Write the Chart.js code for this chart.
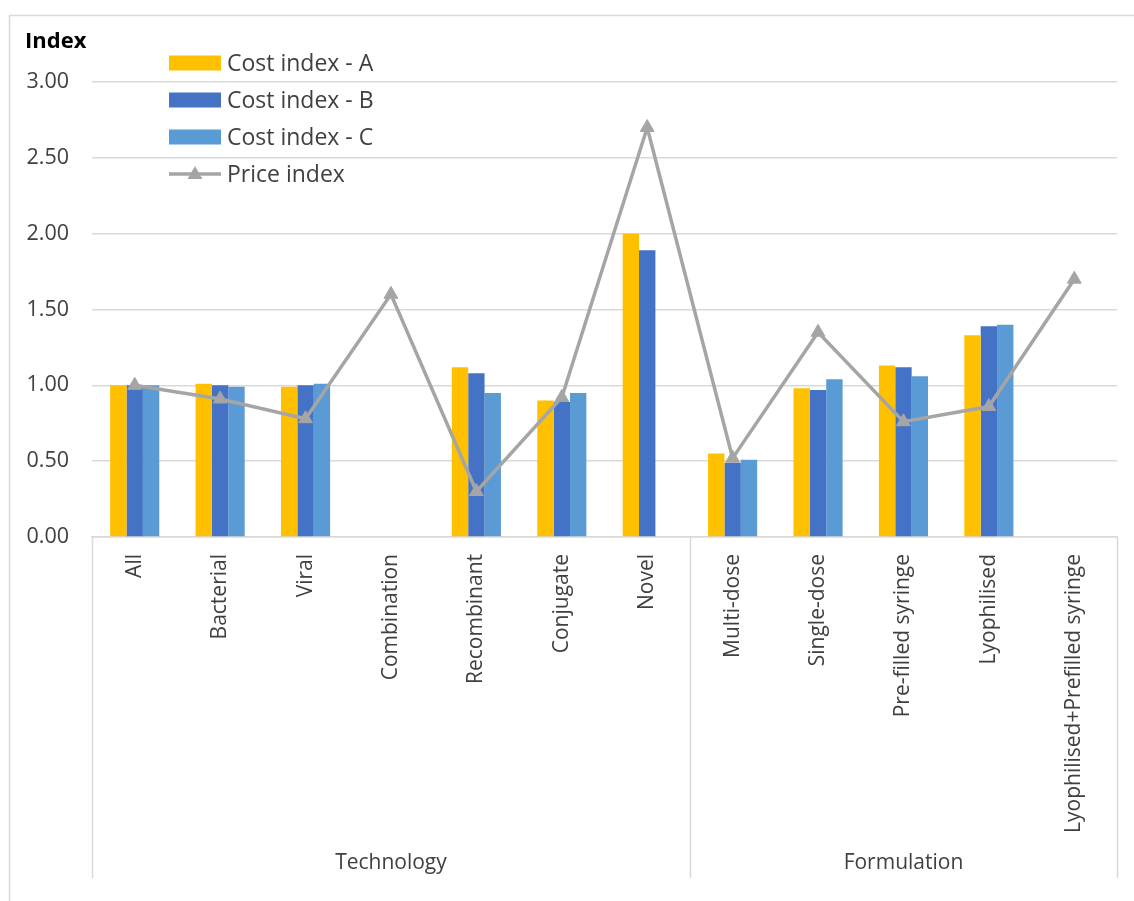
<!DOCTYPE html>
<html>
<head>
<meta charset="utf-8">
<title>Cost and price index</title>
<script src="https://cdn.jsdelivr.net/npm/chart.js@4.4.1/dist/chart.umd.min.js"></script>
<style>
  html, body { margin: 0; padding: 0; background: #fff; }
  canvas { display: block; }
</style>
</head>
<body>
<canvas id="indexChart" width="1134" height="901"></canvas>
<script>
// categories and groups along the x axis
const categories = ['All', 'Bacterial', 'Viral', 'Combination', 'Recombinant', 'Conjugate', 'Novel',
  'Multi-dose', 'Single-dose', 'Pre-filled syringe', 'Lyophilised', 'Lyophilised+Prefilled syringe'];
const groupNames = ['Technology', 'Formulation'];
const groupSizes = [7, 5];

// series values (null = no bar)
const costA = [1.00, 1.01, 0.99, null, 1.12, 0.90, 2.00, 0.55, 0.98, 1.13, 1.33, null];
const costB = [1.00, 1.00, 1.00, null, 1.08, 0.89, 1.89, 0.49, 0.97, 1.12, 1.39, null];
const costC = [1.00, 0.99, 1.01, null, 0.95, 0.95, null, 0.51, 1.04, 1.06, 1.40, null];
const price = [1.00, 0.91, 0.78, 1.60, 0.30, 0.92, 2.70, 0.52, 1.35, 0.76, 0.86, 1.70];

const yMax = 3;
const yStep = 0.5;

const FONT = '"Open Sans", "Noto Sans", sans-serif';
const TEXT = '#404040';
const GRID = '#D9D9D9';

// frame, group axis, title and legend are painted around the chart
const decorations = {
    id: 'decorations',
    beforeDraw(chart) {
        const ctx = chart.ctx;
        ctx.save();
        ctx.strokeStyle = GRID;
        ctx.lineWidth = 1.5;
        ctx.strokeRect(9.5, 15.5, chart.width, chart.height);
        ctx.restore();
    },
    afterDraw(chart) {
        const ctx = chart.ctx;
        const area = chart.chartArea;
        const x = chart.scales.x;
        const half = (x.getPixelForValue(1) - x.getPixelForValue(0)) / 2;
        const bottom = area.bottom + 341;

        ctx.save();
        // group separators and group names
        ctx.strokeStyle = GRID;
        ctx.lineWidth = 1.5;
        let start = 0;
        const edges = [x.getPixelForValue(0) - half];
        groupSizes.forEach((n, g) => {
            const end = start + n - 1;
            const left = x.getPixelForValue(start) - half;
            const right = x.getPixelForValue(end) + half;
            edges.push(right);
            ctx.fillStyle = TEXT;
            ctx.font = '21px ' + FONT;
            ctx.textAlign = 'center';
            ctx.textBaseline = 'middle';
            ctx.fillText(groupNames[g], (left + right) / 2, area.bottom + 326);
            start += n;
        });
        edges.forEach(ex => {
            ctx.beginPath();
            ctx.moveTo(Math.round(ex) + 0.5, area.bottom);
            ctx.lineTo(Math.round(ex) + 0.5, bottom);
            ctx.stroke();
        });

        // axis title
        ctx.fillStyle = '#000';
        ctx.font = 'bold 22px ' + FONT;
        ctx.textAlign = 'left';
        ctx.textBaseline = 'middle';
        ctx.fillText('Index', 25, 42);

        // legend
        ctx.font = '23px ' + FONT;
        chart.data.datasets.forEach((ds, i) => {
            const cy = 63 + i * 37;
            if (ds.type === 'line') {
                ctx.strokeStyle = ds.borderColor;
                ctx.lineWidth = ds.borderWidth;
                ctx.beginPath();
                ctx.moveTo(169, cy);
                ctx.lineTo(221, cy);
                ctx.stroke();
                ctx.fillStyle = ds.borderColor;
                ctx.beginPath();
                ctx.moveTo(195, cy - 8);
                ctx.lineTo(202.5, cy + 5);
                ctx.lineTo(187.5, cy + 5);
                ctx.closePath();
                ctx.fill();
            } else {
                ctx.fillStyle = ds.backgroundColor;
                ctx.fillRect(169, cy - 7.5, 52, 15);
            }
            ctx.fillStyle = TEXT;
            ctx.fillText(ds.label, 227, cy + 1);
        });
        ctx.restore();
    }
};

const barBase = {
    type: 'bar',
    order: 1,
    categoryPercentage: 0.575,
    barPercentage: 1.0,
    borderWidth: 0
};

new Chart(document.getElementById('indexChart'), {
    data: {
        labels: categories,
        datasets: [
            Object.assign({}, barBase, { label: 'Cost index - A', data: costA, backgroundColor: '#FFC000' }),
            Object.assign({}, barBase, { label: 'Cost index - B', data: costB, backgroundColor: '#4472C4' }),
            Object.assign({}, barBase, { label: 'Cost index - C', data: costC, backgroundColor: '#5B9BD5' }),
            {
                type: 'line',
                order: 0,
                label: 'Price index',
                data: price,
                borderColor: '#A5A5A5',
                backgroundColor: '#A5A5A5',
                borderWidth: 3.5,
                tension: 0,
                pointStyle: 'triangle',
                pointRadius: 8,
                pointHoverRadius: 8,
                pointBackgroundColor: '#A5A5A5',
                pointBorderColor: '#A5A5A5',
                pointBorderWidth: 1
            }
        ]
    },
    options: {
        responsive: false,
        animation: false,
        events: [],
        layout: { padding: { left: 0, right: 17, top: 82, bottom: 0 } },
        plugins: {
            legend: { display: false },
            tooltip: { enabled: false }
        },
        scales: {
            x: {
                afterFit: scale => { scale.height = 364; },
                grid: { display: false, drawTicks: false },
                border: { display: true, color: GRID, width: 1.5 },
                ticks: {
                    autoSkip: false,
                    minRotation: 90,
                    maxRotation: 90,
                    padding: 17,
                    color: TEXT,
                    font: { family: FONT, size: 21 }
                }
            },
            y: {
                min: 0,
                max: yMax,
                afterFit: scale => { scale.width = 92; },
                grid: { color: GRID, lineWidth: 1.5, drawTicks: false },
                border: { display: false },
                ticks: {
                    stepSize: yStep,
                    padding: 23,
                    color: TEXT,
                    font: { family: FONT, size: 21.5 },
                    callback: v => v.toFixed(2)
                }
            }
        }
    },
    plugins: [decorations]
});
</script>
</body>
</html>
